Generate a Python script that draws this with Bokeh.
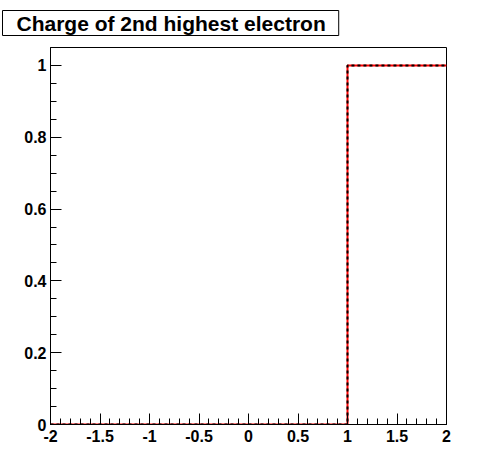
from bokeh.plotting import figure
from bokeh.models import FixedTicker, Range1d
from bokeh.embed import file_html
from bokeh.resources import INLINE

# Histogram data (bin edges and contents)
edges = [-2.0, -1.0, 0.0, 1.0, 2.0]
counts = [0.0, 0.0, 0.0, 1.0]
title_text = "Charge of 2nd highest electron"
x_ticks = [-2, -1.5, -1, -0.5, 0, 0.5, 1, 1.5, 2]
x_tick_labels = ["-2", "-1.5", "-1", "-0.5", "0", "0.5", "1", "1.5", "2"]
y_ticks = [0, 0.2, 0.4, 0.6, 0.8, 1.0]
y_tick_labels = ["0", "0.2", "0.4", "0.6", "0.8", "1"]

FONT = "Liberation Sans"

p = figure(width=480, height=456, output_backend="svg", toolbar_location=None,
           x_range=Range1d(-2, 2), y_range=Range1d(0, 1.05),
           min_border_left=50, min_border_right=34, min_border_top=47,
           min_border_bottom=32)
p.grid.visible = False
p.outline_line_color = "black"
p.outline_line_width = 1
p.background_fill_color = "white"
p.border_fill_color = "white"

p.title.text = title_text
p.title.text_font = FONT
p.title.text_font_style = "bold"
p.title.text_font_size = "21px"
p.title.text_color = "black"
p.title.align = "left"
p.title.vertical_align = "top"
p.title.border_line_color = "black"
p.title.border_line_width = 1
p.title.background_fill_color = "white"
p.title.padding = dict(left=14, right=13, top=1, bottom=1)
p.title.offset = -48
p.title.standoff = 20

x_minor = [round(-2 + 0.1 * i, 2) for i in range(41)]
y_minor = [round(0.05 * i, 2) for i in range(22)]
p.xaxis.ticker = FixedTicker(ticks=x_ticks, minor_ticks=x_minor)
p.yaxis.ticker = FixedTicker(ticks=y_ticks, minor_ticks=y_minor)
p.xaxis.major_label_overrides = {float(t): l for t, l in zip(x_ticks, x_tick_labels)}
p.yaxis.major_label_overrides = {float(t): l for t, l in zip(y_ticks, y_tick_labels)}

for ax in (p.xaxis, p.yaxis):
    ax.major_tick_in = 11
    ax.major_tick_out = 0
    ax.minor_tick_in = 6
    ax.minor_tick_out = 0
    ax.axis_line_color = "black"
    ax.major_tick_line_color = "black"
    ax.minor_tick_line_color = "black"
    ax.major_label_text_font = FONT
    ax.major_label_text_font_style = "bold"
    ax.major_label_text_font_size = "16px"
    ax.major_label_text_color = "black"
p.xaxis.major_label_standoff = 5
p.yaxis.major_label_standoff = 4

xs = edges
ys = counts + [counts[-1]]
p.step(xs, ys, mode="after", line_color="red", line_width=2)
p.step(xs, ys, mode="after", line_color="black", line_width=2, line_dash="3 3")

open("out.html", "w").write(file_html(p, INLINE))
